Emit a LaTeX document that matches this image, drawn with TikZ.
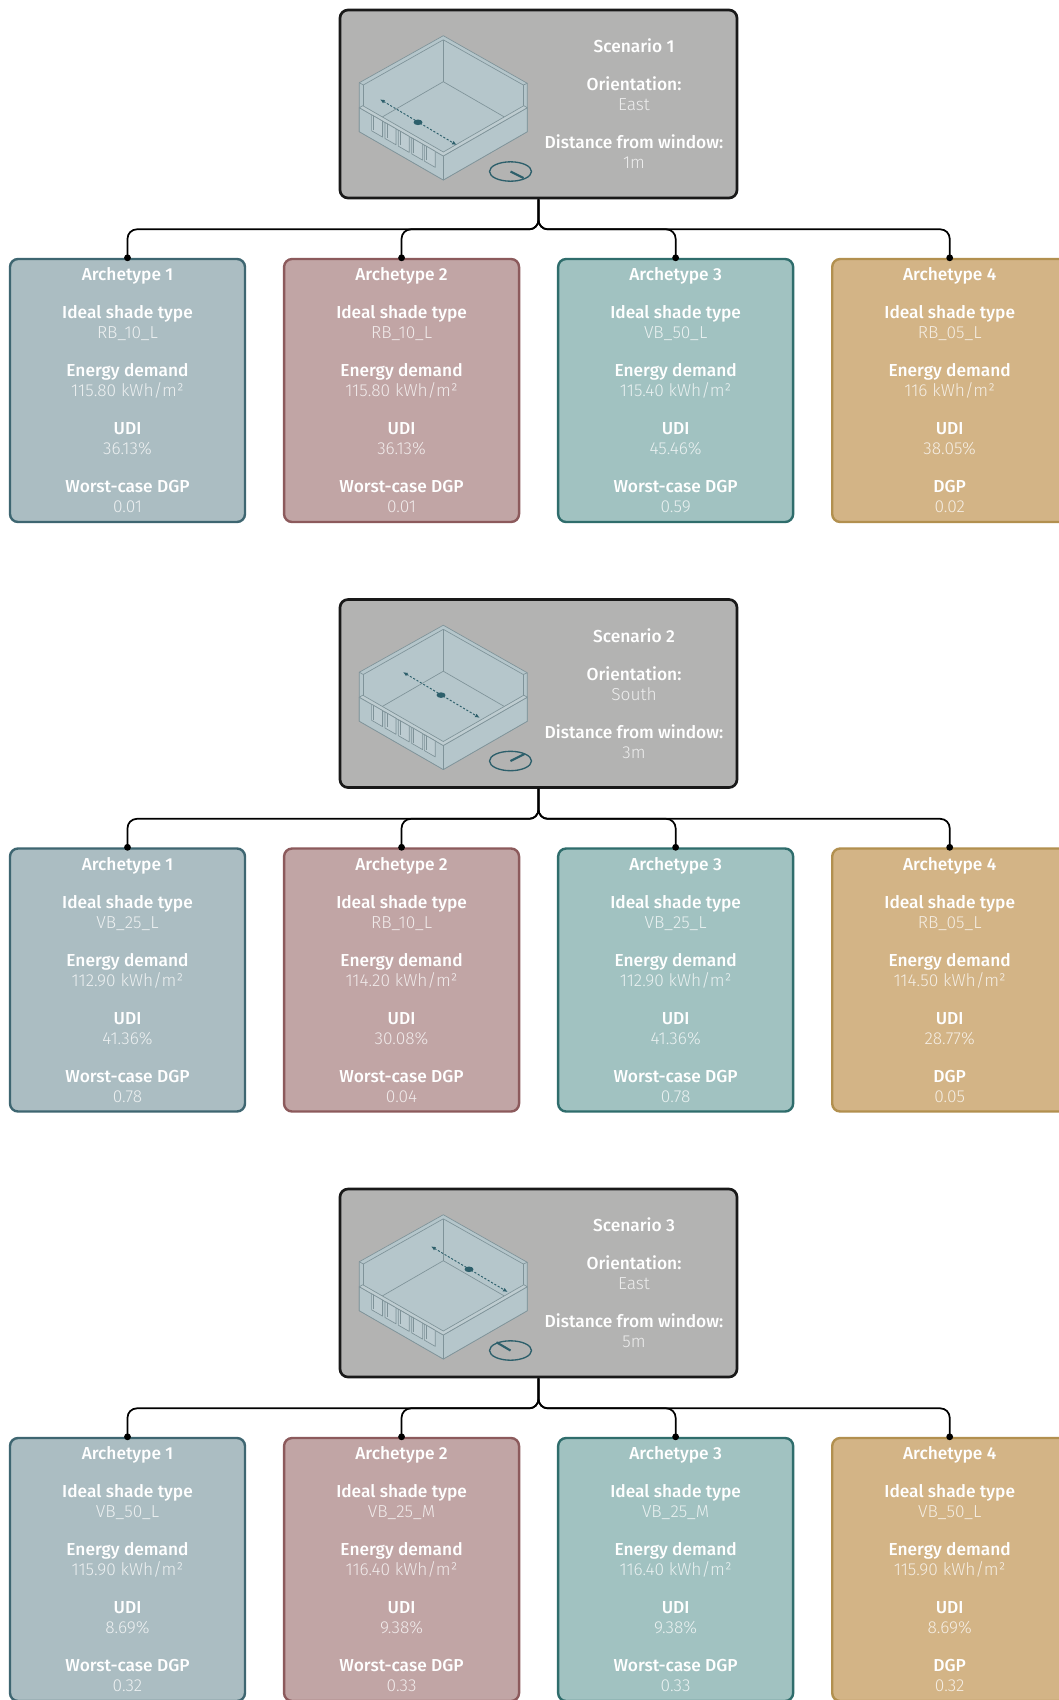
\documentclass[tikz,border=0pt]{standalone}
\usepackage{fontspec}
\setmainfont{Fira Sans}[UprightFont={* Light}, BoldFont={* Medium}]
\usepackage{tikz}
\usetikzlibrary{arrows.meta, positioning}
\usepackage{xcolor}
\definecolor{scFill}{HTML}{B3B3B2}
\definecolor{roomFill}{HTML}{B5C6CB}
\definecolor{roomTop}{HTML}{BFCDD1}
\definecolor{roomGlass}{HTML}{BDCCD1}
\definecolor{roomLine}{HTML}{7F9399}
\definecolor{cTealDark}{HTML}{2D5F6B}
\definecolor{cArch1}{HTML}{ABBDC2}
\definecolor{cArch1Line}{HTML}{3E6671}
\definecolor{cArch2}{HTML}{C1A5A5}
\definecolor{cArch2Line}{HTML}{8C5A5C}
\definecolor{cArch3}{HTML}{A1C2C1}
\definecolor{cArch3Line}{HTML}{2F6D6C}
\definecolor{cArch4}{HTML}{D3B486}
\definecolor{cArch4Line}{HTML}{B2904F}

\newcommand{\fieldname}[1]{\textcolor{white}{\textbf{#1}}}

% isometric room: #1 = box corner, #2 = shift of the measuring line, #3 = needle
\newcommand{\roomsketch}[3]{%
  \begin{scope}[shift={#1}]
    % shell and back walls
    \filldraw[roomline, fill=roomFill] (104.3,26.7) -- (188.3,74.3) -- (188.3,122.7)
      -- (104.3,171) -- (20.3,122.7) -- (20.3,73.7) -- cycle;
    \draw[roomline] (20.3,73.7) -- (24.3,76) -- (104.3,30.8) -- (184.3,76) -- (188.3,74.3);
    \draw[roomline] (24.3,76) -- (24.3,100.7);
    \draw[roomline] (184.3,76) -- (184.3,96.7);
    \draw[roomline] (104.3,30.8) -- (104.3,72.7);
    \draw[roomline] (24.3,118.9) -- (104.3,72.7) -- (184.3,118.9);
    % low front walls
    \filldraw[roomline, fill=roomFill] (20.3,98.7) -- (104.3,147) -- (188.3,98.7)
      -- (188.3,122.7) -- (104.3,171) -- (20.3,122.7) -- cycle;
    \filldraw[roomline, fill=roomTop] (20.3,98.7) -- (104.3,147) -- (188.3,98.7)
      -- (184.8,96.7) -- (104.3,143) -- (23.8,96.7) -- cycle;
    \draw[roomline] (104.3,147) -- (104.3,171);
    % windows
    \foreach \u in {0.127,0.286,0.445,0.604,0.755}{
      \filldraw[roomline, fill=roomGlass]
        ({20.3+84*(\u+0.02)},{122.7+48.3*(\u+0.02)-8})
        -- ({20.3+84*(\u+0.15)},{122.7+48.3*(\u+0.15)-8})
        -- ({20.3+84*(\u+0.15)},{122.7+48.3*(\u+0.15)-24})
        -- ({20.3+84*(\u+0.02)},{122.7+48.3*(\u+0.02)-24}) -- cycle;
      \draw[roomline] ({20.3+84*(\u+0.045)},{122.7+48.3*(\u+0.045)-10})
        -- ({20.3+84*(\u+0.045)},{122.7+48.3*(\u+0.045)-24});
    }
    % measuring line
    \begin{scope}[shift={#2}]
      \draw[measline] (41,90.3) -- (117.7,136);
      \fill[cTealDark] (79,113.3) ellipse [x radius=4.5, y radius=2.8];
    \end{scope}
    % compass
    \draw[compass] (171.5,162.5) ellipse [x radius=21, y radius=9.7];
    \draw[needle] (171.5,162.5) -- ++#3;
  \end{scope}}

\tikzset{
  basebox/.style={rectangle, rounded corners=6pt, line width=1.8pt,
                  align=center, font=\fontsize{13}{15}\selectfont},
  scenbox/.style={basebox, fill=scFill, draw=black!90, line width=2pt,
                  minimum width=297.75pt, minimum height=141pt},
  archbox/.style={basebox, minimum width=176.25pt, minimum height=197.25pt},
  arch1/.style={archbox, fill=cArch1, draw=cArch1Line, text=white!78!cArch1},
  arch2/.style={archbox, fill=cArch2, draw=cArch2Line, text=white!78!cArch2},
  arch3/.style={archbox, fill=cArch3, draw=cArch3Line, text=white!78!cArch3},
  arch4/.style={archbox, fill=cArch4, draw=cArch4Line, text=white!78!cArch4},
  sctext/.style={align=center, font=\fontsize{13}{15}\selectfont,
                 text=white!78!scFill},
  link/.style={-{Circle[length=5pt]}, line width=1.3pt, rounded corners=7pt,
               shorten >=-2.5pt},
  roomline/.style={draw=roomLine, line width=0.5pt, line join=round},
  measline/.style={{Latex[length=3.5pt,width=3pt]}-{Latex[length=3.5pt,width=3pt]},
                   cTealDark, line width=0.7pt, dash pattern=on 1.6pt off 1.3pt},
  compass/.style={draw=cTealDark, line width=1pt},
  needle/.style={draw=cTealDark, line width=1.6pt}
}

\begin{document}
\begin{tikzpicture}[x=0.75pt, y=-0.75pt]

  \useasboundingbox (0,0) rectangle (1059,1700);
  \fill[white] (0,0) rectangle (1059,1700);

  % Scenario 1
  \node[scenbox] (s1) at (538.5,104) {};
  \roomsketch{(339,9)}{(0,0)}{(13,6.5)}
  \node[sctext] (s1txt) at (634,104)
      {\fieldname{Scenario 1}\\[13.5pt]
       \fieldname{Orientation:}\\East\\[13.5pt]
       \fieldname{Distance from window:}\\1m};

  \node[arch1] (s1a1) at (127.5,390.5)
      {\fieldname{Archetype 1}\\[13.5pt]
       \fieldname{Ideal shade type}\\RB\_10\_L\\[13.5pt]
       \fieldname{Energy demand}\\115.80 kWh/m²\\[13.5pt]
       \fieldname{UDI}\\36.13\%\\[13.5pt]
       \fieldname{Worst-case DGP}\\0.01};
  \node[arch2, right=27.5pt of s1a1] (s1a2)
      {\fieldname{Archetype 2}\\[13.5pt]
       \fieldname{Ideal shade type}\\RB\_10\_L\\[13.5pt]
       \fieldname{Energy demand}\\115.80 kWh/m²\\[13.5pt]
       \fieldname{UDI}\\36.13\%\\[13.5pt]
       \fieldname{Worst-case DGP}\\0.01};
  \node[arch3, right=27.5pt of s1a2] (s1a3)
      {\fieldname{Archetype 3}\\[13.5pt]
       \fieldname{Ideal shade type}\\VB\_50\_L\\[13.5pt]
       \fieldname{Energy demand}\\115.40 kWh/m²\\[13.5pt]
       \fieldname{UDI}\\45.46\%\\[13.5pt]
       \fieldname{Worst-case DGP}\\0.59};
  \node[arch4, right=27.5pt of s1a3] (s1a4)
      {\fieldname{Archetype 4}\\[13.5pt]
       \fieldname{Ideal shade type}\\RB\_05\_L\\[13.5pt]
       \fieldname{Energy demand}\\116 kWh/m²\\[13.5pt]
       \fieldname{UDI}\\38.05\%\\[13.5pt]
       \fieldname{DGP}\\0.02};

  \draw[link] (s1.south) -- ++(0,30) -| (s1a1.north);
  \draw[link] (s1.south) -- ++(0,30) -| (s1a2.north);
  \draw[link] (s1.south) -- ++(0,30) -| (s1a3.north);
  \draw[link] (s1.south) -- ++(0,30) -| (s1a4.north);

  % Scenario 2
  \node[scenbox] (s2) at (538.5,693.5) {};
  \roomsketch{(339,598.5)}{(23,-16.7)}{(14,-7)}
  \node[sctext] (s2txt) at (634,693.5)
      {\fieldname{Scenario 2}\\[13.5pt]
       \fieldname{Orientation:}\\South\\[13.5pt]
       \fieldname{Distance from window:}\\3m};

  \node[arch1] (s2a1) at (127.5,980)
      {\fieldname{Archetype 1}\\[13.5pt]
       \fieldname{Ideal shade type}\\VB\_25\_L\\[13.5pt]
       \fieldname{Energy demand}\\112.90 kWh/m²\\[13.5pt]
       \fieldname{UDI}\\41.36\%\\[13.5pt]
       \fieldname{Worst-case DGP}\\0.78};
  \node[arch2, right=27.5pt of s2a1] (s2a2)
      {\fieldname{Archetype 2}\\[13.5pt]
       \fieldname{Ideal shade type}\\RB\_10\_L\\[13.5pt]
       \fieldname{Energy demand}\\114.20 kWh/m²\\[13.5pt]
       \fieldname{UDI}\\30.08\%\\[13.5pt]
       \fieldname{Worst-case DGP}\\0.04};
  \node[arch3, right=27.5pt of s2a2] (s2a3)
      {\fieldname{Archetype 3}\\[13.5pt]
       \fieldname{Ideal shade type}\\VB\_25\_L\\[13.5pt]
       \fieldname{Energy demand}\\112.90 kWh/m²\\[13.5pt]
       \fieldname{UDI}\\41.36\%\\[13.5pt]
       \fieldname{Worst-case DGP}\\0.78};
  \node[arch4, right=27.5pt of s2a3] (s2a4)
      {\fieldname{Archetype 4}\\[13.5pt]
       \fieldname{Ideal shade type}\\RB\_05\_L\\[13.5pt]
       \fieldname{Energy demand}\\114.50 kWh/m²\\[13.5pt]
       \fieldname{UDI}\\28.77\%\\[13.5pt]
       \fieldname{DGP}\\0.05};

  \draw[link] (s2.south) -- ++(0,30) -| (s2a1.north);
  \draw[link] (s2.south) -- ++(0,30) -| (s2a2.north);
  \draw[link] (s2.south) -- ++(0,30) -| (s2a3.north);
  \draw[link] (s2.south) -- ++(0,30) -| (s2a4.north);

  % Scenario 3
  \node[scenbox] (s3) at (538.5,1283) {};
  \roomsketch{(339,1188)}{(51,-32)}{(-14,-8.2)}
  \node[sctext] (s3txt) at (634,1283)
      {\fieldname{Scenario 3}\\[13.5pt]
       \fieldname{Orientation:}\\East\\[13.5pt]
       \fieldname{Distance from window:}\\5m};

  \node[arch1] (s3a1) at (127.5,1569.5)
      {\fieldname{Archetype 1}\\[13.5pt]
       \fieldname{Ideal shade type}\\VB\_50\_L\\[13.5pt]
       \fieldname{Energy demand}\\115.90 kWh/m²\\[13.5pt]
       \fieldname{UDI}\\8.69\%\\[13.5pt]
       \fieldname{Worst-case DGP}\\0.32};
  \node[arch2, right=27.5pt of s3a1] (s3a2)
      {\fieldname{Archetype 2}\\[13.5pt]
       \fieldname{Ideal shade type}\\VB\_25\_M\\[13.5pt]
       \fieldname{Energy demand}\\116.40 kWh/m²\\[13.5pt]
       \fieldname{UDI}\\9.38\%\\[13.5pt]
       \fieldname{Worst-case DGP}\\0.33};
  \node[arch3, right=27.5pt of s3a2] (s3a3)
      {\fieldname{Archetype 3}\\[13.5pt]
       \fieldname{Ideal shade type}\\VB\_25\_M\\[13.5pt]
       \fieldname{Energy demand}\\116.40 kWh/m²\\[13.5pt]
       \fieldname{UDI}\\9.38\%\\[13.5pt]
       \fieldname{Worst-case DGP}\\0.33};
  \node[arch4, right=27.5pt of s3a3] (s3a4)
      {\fieldname{Archetype 4}\\[13.5pt]
       \fieldname{Ideal shade type}\\VB\_50\_L\\[13.5pt]
       \fieldname{Energy demand}\\115.90 kWh/m²\\[13.5pt]
       \fieldname{UDI}\\8.69\%\\[13.5pt]
       \fieldname{DGP}\\0.32};

  \draw[link] (s3.south) -- ++(0,30) -| (s3a1.north);
  \draw[link] (s3.south) -- ++(0,30) -| (s3a2.north);
  \draw[link] (s3.south) -- ++(0,30) -| (s3a3.north);
  \draw[link] (s3.south) -- ++(0,30) -| (s3a4.north);

\end{tikzpicture}
\end{document}
